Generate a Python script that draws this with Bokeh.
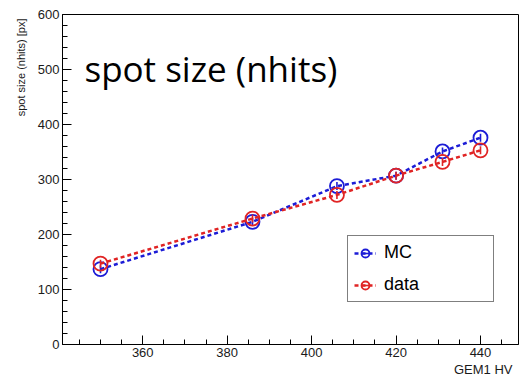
import math
from bokeh.plotting import figure
from bokeh.models import Label, Legend, LegendItem, FixedTicker, Range1d, Title
from bokeh.embed import file_html
from bokeh.resources import INLINE

# ---- data ----
hv = [350, 386, 406, 420, 431, 440]
mc = [137, 223, 288, 307, 351, 376]
data_vals = [147, 229, 272, 307, 332, 353]
x_ticks = [360, 380, 400, 420, 440]
x_minor = [345, 350, 355, 365, 370, 375, 385, 390, 395, 405, 410, 415, 425, 430, 435, 445]
y_ticks = [0, 100, 200, 300, 400, 500, 600]
y_minor = [v for v in range(20, 600, 20) if v % 100]
title_text = "spot size (nhits)"
y_title = "spot size (nhits) [px]"
x_title = "GEM1 HV"

BLUE = "#1c1cd6"
RED = "#e02424"

p = figure(width=520, height=376, output_backend="svg", toolbar_location=None,
           x_range=Range1d(341, 449), y_range=Range1d(0, 600),
           min_border_left=62, min_border_right=2, min_border_top=14, min_border_bottom=32,
           background_fill_color="white", border_fill_color="white")
p.outline_line_color = "black"
p.outline_line_width = 1
p.xgrid.visible = False
p.ygrid.visible = False

for ax, ticks, minor in ((p.xaxis[0], x_ticks, x_minor), (p.yaxis[0], y_ticks, y_minor)):
    ax.ticker = FixedTicker(ticks=ticks, minor_ticks=minor)
    ax.axis_line_color = "black"
    ax.major_tick_line_color = "black"
    ax.minor_tick_line_color = "black"
    ax.major_tick_in = 9
    ax.major_tick_out = 0
    ax.minor_tick_in = 5
    ax.minor_tick_out = 0
    ax.major_label_text_font = "Liberation Sans"
    ax.major_label_text_font_size = "13px"
    ax.major_label_text_color = "#1a1a1a"
p.xaxis.major_label_standoff = 3
p.yaxis.major_label_standoff = 3

def series(y, color):
    ln = p.line(hv, y, line_color=color, line_width=2.5, line_dash="4 3")
    sc = p.scatter(hv, y, marker="circle", size=14, fill_color=None, line_color=color, line_width=1.8)
    er = p.scatter(hv, y, marker="dash", angle=math.pi / 2, size=8, line_color=color, line_width=1.6)
    return [ln, sc, er]

r_mc = series(mc, BLUE)
r_data = series(data_vals, RED)

legend = Legend(items=[LegendItem(label="MC", renderers=r_mc),
                       LegendItem(label="data", renderers=r_data)],
                location=(285, 42), padding=6, spacing=11, glyph_width=22, glyph_height=20,
                label_height=20, label_width=103, label_standoff=8,
                label_text_font="Liberation Sans", label_text_font_size="18px",
                label_text_color="black", border_line_color="black", border_line_width=1,
                background_fill_color="white", background_fill_alpha=1, margin=0)
p.add_layout(legend, "center")

p.add_layout(Label(x=346.2, y=502, text=title_text, text_font="Open Sans",
                   text_font_size="35px", text_color="black", text_baseline="alphabetic"))

p.add_layout(Title(text=y_title, align="right", text_font="Liberation Sans",
                   text_font_size="11px", text_font_style="normal", text_color="#1a1a1a",
                   standoff=16, offset=4), "left")
p.add_layout(Title(text=x_title, align="right", text_font="Liberation Sans",
                   text_font_size="13px", text_font_style="normal", text_color="#1a1a1a",
                   standoff=0, offset=6), "below")

open("out.html", "w").write(file_html(p, INLINE))
